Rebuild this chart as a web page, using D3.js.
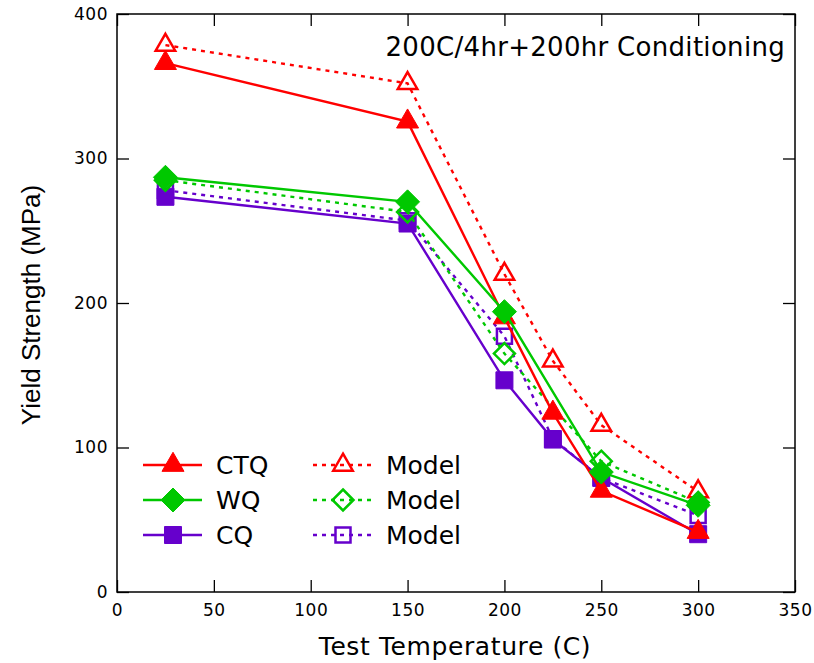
<!DOCTYPE html>
<html>
<head>
<meta charset="utf-8">
<script src="https://cdn.jsdelivr.net/npm/d3@7"></script>
<style>
  html, body { margin: 0; padding: 0; background: #fff; }
  svg { display: block; font-family: "DejaVu Sans", sans-serif; }
</style>
</head>
<body>
<svg id="chart" width="814" height="663"></svg>
<script>
// Yield strength vs. test temperature, measured and modelled
const tempsCTQ = [25, 150, 200, 225, 250, 300];
const ctq      = [366, 325.5, 190, 124, 70, 41.5];
const ctqModel = [378.5, 352, 220, 160, 115.5, 69.5];

const tempsWQ  = [25, 150, 200, 250, 300];
const wq       = [287, 270, 194, 83, 60];
const wqModel  = [285, 263, 165, 90.5, 62];

const tempsCQ  = [25, 150, 200, 225, 250, 300];
const cq       = [273.5, 255, 146.5, 105.5, 79, 40];
const cqModel  = [278, 257, 177, 106, 79, 53];

const xTicks = [0, 50, 100, 150, 200, 250, 300, 350];
const yTicks = [0, 100, 200, 300, 400];

const titleText = "200C/4hr+200hr Conditioning";
const xLabel = "Test Temperature (C)";
const yLabel = "Yield Strength (MPa)";

const RED = "#ff0000", GREEN = "#00c800", PURPLE = "#6600cc";

const svg = d3.select("#chart");
const m = { left: 117, right: 795, top: 14, bottom: 592 };

const x = d3.scaleLinear().domain([0, 350]).range([m.left, m.right]);
const y = d3.scaleLinear().domain([0, 400]).range([m.bottom, m.top]);

// Axes with inward ticks on all four sides
const tickLen = 12;
const axisFont = "17px";
const gx = svg.append("g").attr("transform", `translate(0,${m.bottom})`)
  .call(d3.axisBottom(x).tickValues(xTicks).tickSizeInner(-tickLen).tickSizeOuter(0).tickPadding(12));
const gxTop = svg.append("g").attr("transform", `translate(0,${m.top})`)
  .call(d3.axisTop(x).tickValues(xTicks).tickSizeInner(-tickLen).tickSizeOuter(0).tickFormat(""));
const gy = svg.append("g").attr("transform", `translate(${m.left},0)`)
  .call(d3.axisLeft(y).tickValues(yTicks).tickSizeInner(-tickLen).tickSizeOuter(0).tickPadding(9));
const gyR = svg.append("g").attr("transform", `translate(${m.right},0)`)
  .call(d3.axisRight(y).tickValues(yTicks).tickSizeInner(-tickLen).tickSizeOuter(0).tickFormat(""));

[gx, gxTop, gy, gyR].forEach(g => {
  g.select(".domain").remove();
  g.selectAll("line").attr("stroke", "#000").attr("stroke-width", 1.3);
  g.selectAll("text").attr("fill", "#000").style("font-size", axisFont)
    .style("font-family", "'DejaVu Sans', sans-serif").style("letter-spacing", "0.5px");
});

svg.append("rect")
  .attr("x", m.left).attr("y", m.top)
  .attr("width", m.right - m.left).attr("height", m.bottom - m.top)
  .attr("fill", "none").attr("stroke", "#000").attr("stroke-width", 1.5);

// Axis titles
svg.append("text")
  .attr("x", 455).attr("y", 655)
  .attr("text-anchor", "middle").style("font-size", "25px")
  .style("letter-spacing", "0.6px")
  .text(xLabel);

svg.append("text")
  .attr("transform", `translate(40,${305}) rotate(-90)`)
  .attr("text-anchor", "middle").style("font-size", "26px")
  .style("font-family", "'Liberation Sans Narrow', 'Liberation Sans', sans-serif")
  .text(yLabel);

// Marker shapes
const filledPath = {
  triangle: d3.symbol().type(d3.symbolTriangle).size(210)(),
  diamond: "M0,-12L12,0L0,12L-12,0Z",
  square: "M-8.5,-8.5H8.5V8.5H-8.5Z"
};
const hollowPath = {
  triangle: d3.symbol().type(d3.symbolTriangle).size(165)(),
  diamond: "M0,-10.5L10.5,0L0,10.5L-10.5,0Z",
  square: "M-7.5,-7.5H7.5V7.5H-7.5Z"
};

function drawSeries(temps, vals, color, shape, model) {
  const pts = temps.map((t, i) => [x(t), y(vals[i])]);
  svg.append("path")
    .attr("d", d3.line()(pts))
    .attr("fill", "none").attr("stroke", color).attr("stroke-width", 2.4)
    .attr("stroke-dasharray", model ? "4,5" : null);
  svg.append("g").selectAll("path").data(pts).join("path")
    .attr("transform", d => `translate(${d[0]},${d[1]})`)
    .attr("d", model ? hollowPath[shape] : filledPath[shape])
    .attr("fill", model ? "none" : color)
    .attr("stroke", color).attr("stroke-width", model ? 2.5 : 1);
}

drawSeries(tempsCQ, cqModel, PURPLE, "square", true);
drawSeries(tempsCQ, cq, PURPLE, "square", false);
drawSeries(tempsCTQ, ctqModel, RED, "triangle", true);
drawSeries(tempsWQ, wqModel, GREEN, "diamond", true);
drawSeries(tempsCTQ, ctq, RED, "triangle", false);
drawSeries(tempsWQ, wq, GREEN, "diamond", false);

// Title inside the frame
svg.append("text")
  .attr("x", 785).attr("y", 56)
  .attr("text-anchor", "end").style("font-size", "26px")
  .style("letter-spacing", "0.3px")
  .text(titleText);

// Legend
const legend = [
  { name: "CTQ", color: RED, shape: "triangle" },
  { name: "WQ", color: GREEN, shape: "diamond" },
  { name: "CQ", color: PURPLE, shape: "square" }
];
legend.forEach((d, i) => {
  const ly = 465 + i * 35;
  // measured
  svg.append("line").attr("x1", 143).attr("x2", 202).attr("y1", ly).attr("y2", ly)
    .attr("stroke", d.color).attr("stroke-width", 2.4);
  svg.append("path").attr("transform", `translate(173,${ly})`)
    .attr("d", filledPath[d.shape]).attr("fill", d.color).attr("stroke", d.color);
  svg.append("text").attr("x", 216).attr("y", ly).attr("dy", "0.36em")
    .style("font-size", "25px").text(d.name);
  // model
  svg.append("line").attr("x1", 313).attr("x2", 372).attr("y1", ly).attr("y2", ly)
    .attr("stroke", d.color).attr("stroke-width", 2.4).attr("stroke-dasharray", "4,5");
  svg.append("path").attr("transform", `translate(343,${ly})`)
    .attr("d", hollowPath[d.shape]).attr("fill", "none").attr("stroke", d.color).attr("stroke-width", 2.5);
  svg.append("text").attr("x", 386).attr("y", ly).attr("dy", "0.36em")
    .style("font-size", "25px").text("Model");
});
</script>
</body>
</html>
